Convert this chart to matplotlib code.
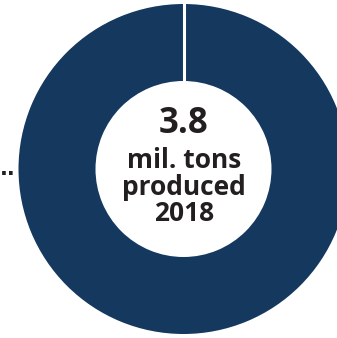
import matplotlib
matplotlib.use('Agg')
import matplotlib.pyplot as plt
import numpy as np

# data
values = [3.8]
ring_color = '#15385f'
center_value = '3.8'
center_lines = ['mil. tons', 'produced', '2018']

W, H = 337, 338


def main():
    fig = plt.figure(figsize=(W / 100, H / 100), dpi=100)
    ax = fig.add_axes([0, 0, 1, 1])

    cx, cy = 183.5, H - 169
    r_out, ring_w = 165, 77
    ax.pie(values, colors=[ring_color], startangle=90, counterclock=False,
           center=(cx, cy), radius=r_out,
           wedgeprops=dict(width=ring_w, edgecolor='none'))

    # thin white separator at 12 o'clock
    ang = np.deg2rad(90)
    r_in = r_out - ring_w
    ax.plot([cx + r_in * np.cos(ang), cx + (r_out + 2) * np.cos(ang)],
            [cy + r_in * np.sin(ang), cy + (r_out + 2) * np.sin(ang)],
            color='white', lw=2.2, solid_capstyle='butt')

    ax.set_xlim(0, W)
    ax.set_ylim(0, H)
    ax.set_aspect('equal')
    ax.axis('off')

    font = 'Open Sans'
    txt_color = '#231f20'
    ax.text(184, H - 133, center_value, ha='center', va='baseline',
            fontsize=25, fontweight='bold', family=font, color=txt_color)
    baselines = [168, 195, 221]
    for line, yb in zip(center_lines, baselines):
        ax.text(184, H - yb, line, ha='center', va='baseline',
                fontsize=19, fontweight='bold', family=font, color=txt_color)

    # label stub on the left edge
    ax.text(0, H - 169, '..', ha='left', va='center', fontsize=15,
            fontweight='bold', color=txt_color)

    fig.savefig('out.png', dpi=100)


if __name__ == '__main__':
    main()
